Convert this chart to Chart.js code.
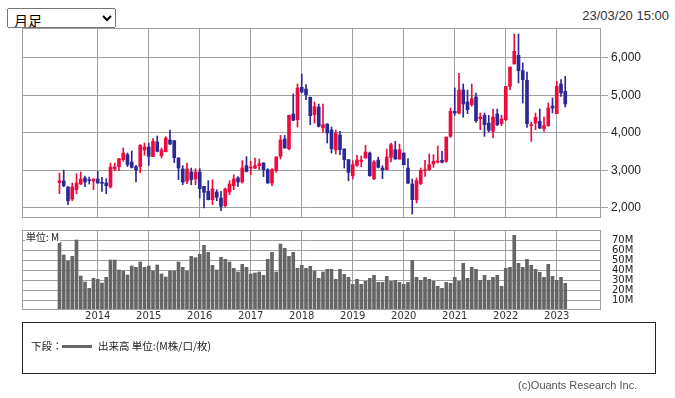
<!DOCTYPE html>
<html>
<head>
<meta charset="utf-8">
<script src="https://cdn.jsdelivr.net/npm/chart.js@4.4.0/dist/chart.umd.min.js"></script>
<style>
  body { margin: 0; background: #fff; }
  #wrap { position: relative; width: 675px; height: 398px; overflow: hidden; font-family: "Liberation Sans", Arial, sans-serif; }
  #kind { position: absolute; left: 7px; top: 8px; width: 109px; height: 20px; padding: 0 0 0 2px; font: 14px "Noto Sans CJK JP", sans-serif; color: #000; }
  #stamp { position: absolute; right: 6px; top: 9px; font-size: 13px; line-height: 14px; color: #333; }
  #priceChart { position: absolute; left: 0; top: 0; }
  #volChart { position: absolute; left: 0; top: 225px; }
  #legendBox { position: absolute; left: 22px; top: 322px; width: 634px; height: 52px; box-sizing: border-box; border: 1px solid #222; }
  .lg { position: absolute; top: 339px; font: 10.5px "Noto Sans CJK JP", sans-serif; line-height: 14px; color: #222; white-space: nowrap; }
  #lgLine { position: absolute; left: 62px; top: 345px; width: 30px; height: 3px; background: #666; }
  #credit { position: absolute; left: 518px; top: 379px; font-size: 11px; line-height: 13px; color: #555; }
</style>
</head>
<body>
<div id="wrap">
  <select id="kind"><option>月足</option></select>
  <div id="stamp">23/03/20 15:00</div>
  <canvas id="priceChart" width="675" height="225"></canvas>
  <canvas id="volChart" width="675" height="100"></canvas>
  <div id="legendBox"></div>
  <span class="lg" style="left:31px">下段：</span>
  <div id="lgLine"></div>
  <span class="lg" style="left:98px">出来高 単位:(M株/口/枚)</span>
  <div id="credit">(c)Ouants Research Inc.</div>
</div>
<script>
// monthly bars, 2013/04 .. 2023/03
var months = [];
for (var y = 2013; y <= 2023; y++) {
  for (var m = 1; m <= 12; m++) {
    if ((y === 2013 && m < 4) || (y === 2023 && m > 3)) continue;
    months.push(y + '/' + (m < 10 ? '0' + m : m));
  }
}

var open = [2675,2720,2560,2240,2488,2640,2800,2755,2720,2773,2684,2666,2560,3040,3102,3289,3422,3226,3102,3102,3546,3626,3368,3760,3395,3502,3813,3795,3333,3040,2711,2960,2773,2960,2577,2444,2222,2426,2266,2062,2426,2595,2800,2693,3129,3066,3066,3129,3200,3022,2666,2995,3378,3840,3582,4506,4355,5218,5173,4951,4489,4693,4133,4240,4080,3555,3946,3573,3289,2862,3137,3244,3333,3466,2782,3280,3066,3022,3351,3555,3306,3466,3066,2640,2222,2649,2995,3022,3173,3226,3271,3244,3911,4578,4533,5147,4827,4755,4960,4382,4471,4266,4044,4506,4249,4355,5244,5840,6071,5662,5404,4195,4266,4311,4115,4195,4720,4515,5307,5111];
var high = [2933,3013,2570,2666,2915,2960,2853,2826,2780,2977,2817,2782,3200,3200,3320,3600,3466,3520,3137,3689,3733,3733,3849,3920,3600,3902,4080,3800,3340,3129,3200,3066,3049,3049,2580,2729,2755,2488,2444,2533,2729,2889,2835,3262,3369,3244,3333,3306,3205,3049,3049,3365,3938,3938,4475,5040,5307,5573,5289,4960,4827,4773,4773,4245,4160,4080,4044,3580,3295,3262,3404,3386,3671,3493,3262,3360,3129,3573,3733,3777,3706,3470,3315,2773,2800,3066,3271,3440,3422,3653,3511,3893,4666,5200,5591,5307,5147,5307,5067,4533,4533,4471,4640,4640,4471,5244,5760,6640,6640,5867,5627,4293,4533,4640,4426,4800,4933,5378,5422,5511];
var low = [2382,2568,2088,2195,2382,2622,2568,2640,2488,2660,2444,2382,2533,2995,2995,3244,3102,3066,2693,2942,3404,3137,3368,3493,3333,3493,3690,3209,2755,2622,2649,2622,2622,2266,2000,2215,2088,2195,1928,2026,2355,2488,2577,2666,2960,2889,3049,3022,2835,2660,2595,2951,3306,3595,3546,4330,4160,5070,4889,4222,4266,4160,4018,3733,3466,3440,3422,3066,2729,2773,3111,3100,3330,2844,2755,3066,2782,3015,3226,3300,3300,3150,2649,1840,2133,2622,2844,2995,3084,3200,3200,3218,3884,4471,4506,4418,4515,4711,4284,4089,3911,4027,3866,4195,4195,4329,5155,5840,5333,4800,4151,3778,4089,4115,4044,4178,4533,4515,4978,4693];
var close = [2728,2595,2195,2560,2666,2773,2693,2729,2773,2666,2657,2595,3093,3093,3315,3466,3155,3084,3013,3671,3626,3377,3777,3511,3546,3866,3706,3342,3066,2693,3040,2755,2960,2515,2417,2222,2506,2284,2044,2506,2640,2773,2693,3066,2977,3084,3129,3182,3022,2666,3022,3360,3813,3600,4471,4338,5200,5093,5022,4462,4702,4178,4222,4000,3582,3991,3555,3289,2951,3155,3280,3280,3493,2862,3226,3084,3013,3360,3689,3306,3555,3155,2666,2222,2729,3004,3022,3155,3244,3244,3218,3893,4578,4533,5147,4773,4622,4915,4329,4426,4222,4071,4426,4222,4373,5244,5760,6178,5662,5422,4249,4222,4418,4133,4195,4666,4666,5244,5067,4773];
var volume = [67.7,55,49,53.7,70,34,28,21.7,31.7,30.7,27,32.7,50,50,40,39,35,44,42.7,48,42.7,44,39,45,36,33,39,39,48,42.7,39,
  53.7,52.3,55.7,64.7,57.7,44.7,40,52.7,50.7,48,41.7,38,45.7,42.7,36,37,38,34.7,50.7,57.7,38,66,61.7,53.7,57.7,41.7,44.7,41.7,43.7,39,31.7,38,
  40.7,40.7,30.7,40.7,35.7,32.7,25.7,30.7,25.7,28.7,31.7,34.7,27.7,27.7,33.7,28.7,29.7,27.7,25.7,27.7,49.7,32.7,29.7,32.7,30.7,28.7,23.7,21.7,27.7,26.7,32.7,28.7,46.7,31.7,42.7,40.7,29.7,34.7,29.7,32.7,34.7,23.7,41.7,42.7,74.7,46.7,42.7,50.7,44.7,40.7,37.7,32.7,45.7,33.7,29.7,32.7,26.7];

var yearTicks = [9, 21, 33, 45, 57, 69, 81, 93, 105, 117];
var yearLabels = ['2014','2015','2016','2017','2018','2019','2020','2021','2022','2023'];
var priceTicks = [2000, 3000, 4000, 5000, 6000];
var volTicks = [10, 20, 30, 40, 50, 60, 70];

var UP = '#ef0a3e', DOWN = '#2b2896', GRID = '#a0a0a0';
var X_MIN = -8.82, X_MAX = 127.41;

Chart.defaults.font.family = '"Liberation Sans", Arial, sans-serif';
Chart.defaults.animation = false;

var candleColors = close.map(function (c, i) { return c >= open[i] ? UP : DOWN; });

// axes must not push the plot area around with label padding
function noPad(s) {
  s.paddingTop = 0; s.paddingBottom = 0; s.paddingLeft = 0; s.paddingRight = 0;
}

var frame = {
  id: 'frame',
  afterDatasetsDraw: function (chart) {
    var a = chart.chartArea, ctx = chart.ctx;
    ctx.save();
    ctx.strokeStyle = GRID;
    ctx.lineWidth = 1;
    ctx.strokeRect(Math.round(a.left) + 0.5, Math.round(a.top) + 0.5, Math.round(a.right - a.left) - 1, Math.round(a.bottom - a.top) - 1);
    ctx.restore();
  }
};

var unitNote = {
  id: 'unitNote',
  afterDraw: function (chart) {
    var a = chart.chartArea, ctx = chart.ctx;
    ctx.save();
    ctx.font = '10px "Noto Sans CJK JP", sans-serif';
    var t = '単位: M';
    var w = ctx.measureText(t).width;
    ctx.fillStyle = '#fff';
    ctx.fillRect(a.left + 3, a.top + 2, w + 2, 11);
    ctx.fillStyle = '#222';
    ctx.textBaseline = 'alphabetic';
    ctx.fillText(t, a.left + 4, a.top + 11);
    ctx.restore();
  }
};

function yearAxis(showLabels) {
  return {
    type: 'linear', min: X_MIN, max: X_MAX, offset: false,
    grid: { color: GRID, offset: false, drawTicks: false },
    border: { display: false },
    afterBuildTicks: function (s) { s.ticks = yearTicks.map(function (v) { return { value: v }; }); },
    ticks: {
      display: showLabels, autoSkip: false, maxRotation: 0, padding: 0,
      color: '#333', font: { family: '"DejaVu Sans", sans-serif', size: 10 },
      callback: function (v, i) { return yearLabels[i]; }
    },
    afterFit: function (s) { s.height = showLabels ? 15 : 0; noPad(s); }
  };
}

new Chart(document.getElementById('priceChart'), {
  type: 'bar',
  data: {
    datasets: [
      {
        data: months.map(function (m, i) { return { x: i, y: [Math.min(open[i], close[i]), Math.max(open[i], close[i])] }; }),
        backgroundColor: candleColors, barThickness: 3, grouped: false, minBarLength: 1
      },
      {
        data: months.map(function (m, i) { return { x: i, y: [low[i], high[i]] }; }),
        backgroundColor: candleColors, barThickness: 1, grouped: false
      }
    ]
  },
  options: {
    responsive: false,
    layout: { padding: { left: 22, top: 28, right: 0, bottom: 7 } },
    plugins: { legend: { display: false }, tooltip: { enabled: false } },
    scales: {
      x: yearAxis(false),
      y: {
        position: 'right', min: 1733.33, max: 6800,
        grid: { color: GRID, tickLength: 7 },
        border: { display: false },
        afterBuildTicks: function (s) { s.ticks = priceTicks.map(function (v) { return { value: v }; }); },
        ticks: { autoSkip: false, color: '#222', font: { size: 12 }, padding: 3, callback: function (v) { return v.toLocaleString('en-US'); } },
        afterFit: function (s) { s.width = 74; noPad(s); }
      }
    }
  },
  plugins: [frame]
});

new Chart(document.getElementById('volChart'), {
  type: 'bar',
  data: {
    datasets: [{
      data: months.map(function (m, i) { return { x: i, y: volume[i] }; }),
      backgroundColor: '#666', barThickness: 3, grouped: false
    }]
  },
  options: {
    responsive: false,
    layout: { padding: { left: 22, top: 5, right: 0, bottom: 0 } },
    plugins: { legend: { display: false }, tooltip: { enabled: false } },
    scales: {
      x: yearAxis(true),
      y: {
        position: 'right', min: 0, max: 80,
        grid: { color: GRID, drawTicks: false },
        border: { display: false },
        afterBuildTicks: function (s) { s.ticks = volTicks.map(function (v) { return { value: v }; }); },
        ticks: { autoSkip: false, color: '#222', font: { family: '"DejaVu Sans", sans-serif', size: 10 }, padding: 11, callback: function (v) { return v + 'M'; } },
        afterFit: function (s) { s.width = 74; noPad(s); }
      }
    }
  },
  plugins: [frame, unitNote]
});
</script>
</body>
</html>
